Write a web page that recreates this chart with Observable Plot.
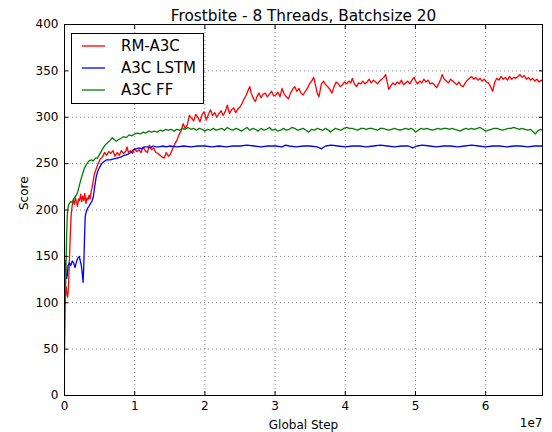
<!DOCTYPE html>
<html>
<head>
<meta charset="utf-8">
<script src="https://cdn.jsdelivr.net/npm/d3@7"></script>
<script src="https://cdn.jsdelivr.net/npm/@observablehq/plot@0.6"></script>
<style>
  html, body { margin: 0; padding: 0; background: #fff; }
  #wrap { position: relative; width: 552px; height: 432px; font-family: "DejaVu Sans", sans-serif; }
  #legend { position: absolute; left: 71px; top: 33px; width: 131px; height: 69px; border: 1px solid #000; background: #fff; }
</style>
</head>
<body>
<div id="wrap"><div id="legend"></div></div>
<script>
const title = "Frostbite - 8 Threads, Batchsize 20";
const xLabel = "Global Step";
const yLabel = "Score";
const xOffsetLabel = "1e7";
const seriesNames = ["RM-A3C", "A3C LSTM", "A3C FF"];
const seriesColors = ["#ff0000", "#0000ff", "#008000"];
const xTicks = [0, 1, 2, 3, 4, 5, 6];
const yTicks = [0, 50, 100, 150, 200, 250, 300, 350, 400];
const xMax = 6.81;

// Global step (in units of 1e7), score
const rmA3C = [[0.005,120],[0.015,112],[0.025,117],[0.035,108],[0.045,106],[0.055,115],[0.065,135],[0.08,168],[0.095,195],[0.11,205],[0.125,211],[0.14,206],[0.155,213],[0.17,209],[0.185,204],[0.2,212],[0.215,210],[0.23,217],[0.245,209],[0.26,215],[0.275,210],[0.29,218],[0.305,207],[0.32,213],[0.335,211],[0.35,216],[0.365,212],[0.38,220],[0.395,225],[0.41,232],[0.43,240],[0.455,245],[0.48,250],[0.51,255],[0.54,257],[0.57,262],[0.6,259],[0.63,263],[0.66,261],[0.69,264],[0.72,258],[0.75,262],[0.78,259],[0.81,264],[0.84,261],[0.87,263],[0.89,268],[0.91,262],[0.94,264],[0.97,261],[1.0,266],[1.03,263],[1.06,265],[1.09,262],[1.12,268],[1.15,264],[1.18,262],[1.21,270],[1.24,265],[1.27,267],[1.3,262],[1.33,261],[1.36,259],[1.39,257],[1.42,256],[1.45,262],[1.48,258],[1.51,260],[1.54,266],[1.57,271],[1.6,275],[1.63,281],[1.66,285],[1.69,293],[1.72,288],[1.75,292],[1.78,302],[1.81,299],[1.84,296],[1.87,303],[1.9,300],[1.93,295],[1.96,303],[1.99,306],[2.02,297],[2.05,303],[2.08,308],[2.11,302],[2.14,305],[2.17,300],[2.2,304],[2.23,307],[2.26,302],[2.29,306],[2.32,313],[2.35,304],[2.38,308],[2.41,310],[2.44,305],[2.47,309],[2.5,311],[2.53,315],[2.56,320],[2.59,324],[2.62,330],[2.64,333],[2.66,326],[2.68,322],[2.7,319],[2.72,317],[2.74,322],[2.77,326],[2.8,321],[2.83,325],[2.86,326],[2.89,322],[2.92,325],[2.95,328],[2.98,323],[3.01,324],[3.04,327],[3.07,322],[3.1,331],[3.13,325],[3.16,322],[3.19,320],[3.22,326],[3.25,330],[3.28,333],[3.31,328],[3.34,331],[3.37,326],[3.4,324],[3.43,328],[3.46,331],[3.49,336],[3.52,339],[3.55,343],[3.575,335],[3.6,326],[3.625,322],[3.66,336],[3.69,339],[3.72,335],[3.75,333],[3.78,330],[3.81,326],[3.84,333],[3.87,338],[3.9,336],[3.93,333],[3.96,335],[3.99,338],[4.02,336],[4.05,339],[4.08,337],[4.1,342],[4.13,336],[4.16,333],[4.19,337],[4.22,336],[4.25,339],[4.28,336],[4.31,338],[4.34,341],[4.37,337],[4.4,340],[4.43,338],[4.46,336],[4.49,339],[4.52,341],[4.55,343],[4.575,346],[4.6,337],[4.62,330],[4.65,334],[4.68,337],[4.71,335],[4.74,338],[4.77,336],[4.8,340],[4.83,335],[4.86,337],[4.89,339],[4.92,336],[4.95,340],[4.98,343],[5.01,338],[5.03,336],[5.06,339],[5.09,337],[5.12,341],[5.15,338],[5.18,340],[5.21,336],[5.24,337],[5.27,335],[5.3,332],[5.33,336],[5.36,341],[5.38,346],[5.41,341],[5.44,339],[5.47,337],[5.5,341],[5.53,339],[5.56,337],[5.59,335],[5.62,338],[5.65,334],[5.68,333],[5.71,337],[5.74,340],[5.77,342],[5.8,344],[5.83,341],[5.86,343],[5.89,340],[5.92,342],[5.95,339],[5.98,341],[6.01,338],[6.04,337],[6.07,333],[6.1,328],[6.13,338],[6.16,342],[6.19,340],[6.22,344],[6.25,341],[6.28,343],[6.31,340],[6.34,344],[6.37,341],[6.4,343],[6.43,342],[6.46,344],[6.49,346],[6.52,343],[6.55,345],[6.58,341],[6.61,343],[6.64,340],[6.67,342],[6.7,339],[6.73,341],[6.76,338],[6.79,340],[6.81,339]];

const a3cLSTM = [[0,142],[0.01,146],[0.02,133],[0.03,126],[0.04,130],[0.05,140],[0.07,143],[0.09,140],[0.11,145],[0.13,143],[0.15,138],[0.17,144],[0.19,148],[0.21,150],[0.225,145],[0.24,140],[0.255,130],[0.265,122],[0.275,140],[0.285,170],[0.295,193],[0.31,198],[0.33,202],[0.35,204],[0.37,207],[0.39,209],[0.41,214],[0.43,225],[0.45,235],[0.47,241],[0.5,246],[0.53,250],[0.56,252],[0.6,254],[0.65,254],[0.7,255],[0.75,256],[0.8,257],[0.85,259],[0.9,260],[0.95,262],[0.98,265],[1.02,266],[1.06,267],[1.1,266],[1.14,268],[1.18,268],[1.22,267],[1.26,269],[1.3,268],[1.35,268],[1.4,269],[1.45,268],[1.5,269],[1.6,268],[1.7,269],[1.8,268],[1.9,269],[2.0,269],[2.1,268],[2.2,269],[2.3,268],[2.4,269],[2.5,269],[2.6,270],[2.7,269],[2.8,268],[2.9,269],[3.0,269],[3.1,268],[3.15,270],[3.2,269],[3.3,268],[3.4,269],[3.5,269],[3.6,268],[3.66,266],[3.72,269],[3.8,270],[3.9,269],[4.0,268],[4.1,269],[4.2,269],[4.3,268],[4.4,269],[4.5,270],[4.6,269],[4.7,268],[4.8,269],[4.9,269],[4.96,267],[5.02,269],[5.1,270],[5.2,269],[5.3,268],[5.4,269],[5.5,269],[5.6,268],[5.7,269],[5.8,270],[5.9,269],[6.0,268],[6.1,269],[6.2,269],[6.3,268],[6.4,269],[6.5,269],[6.6,268],[6.7,269],[6.81,269]];

const a3cFF = [[0,45],[0.01,95],[0.02,135],[0.03,172],[0.04,195],[0.055,205],[0.07,207],[0.09,209],[0.11,208],[0.13,212],[0.15,214],[0.17,216],[0.19,220],[0.21,226],[0.23,232],[0.25,237],[0.27,242],[0.29,246],[0.31,249],[0.33,251],[0.35,253],[0.38,254],[0.41,253],[0.44,256],[0.47,256],[0.5,260],[0.53,264],[0.56,268],[0.59,271],[0.62,273],[0.65,275],[0.68,278],[0.71,276],[0.74,274],[0.77,276],[0.8,277],[0.84,279],[0.88,278],[0.92,281],[0.96,280],[1.0,282],[1.04,283],[1.08,282],[1.12,284],[1.16,283],[1.2,285],[1.24,284],[1.28,285],[1.32,284],[1.36,286],[1.4,285],[1.44,287],[1.48,286],[1.52,287],[1.56,285],[1.6,287],[1.64,286],[1.68,288],[1.72,287],[1.76,289],[1.8,287],[1.84,288],[1.88,286],[1.92,288],[1.96,287],[2.0,285],[2.04,287],[2.08,286],[2.12,288],[2.16,286],[2.2,287],[2.24,288],[2.28,286],[2.32,289],[2.36,287],[2.4,286],[2.44,288],[2.48,287],[2.52,285],[2.56,287],[2.6,289],[2.64,286],[2.68,288],[2.72,287],[2.76,285],[2.8,288],[2.84,286],[2.88,287],[2.92,289],[2.96,286],[3.0,287],[3.04,285],[3.08,286],[3.12,288],[3.16,286],[3.2,287],[3.24,289],[3.28,288],[3.32,286],[3.36,287],[3.4,288],[3.44,286],[3.48,284],[3.52,287],[3.56,286],[3.6,288],[3.64,287],[3.68,286],[3.72,288],[3.76,286],[3.79,284],[3.82,286],[3.86,288],[3.9,287],[3.94,286],[3.98,288],[4.02,289],[4.06,288],[4.1,288],[4.14,287],[4.18,286],[4.22,288],[4.26,288],[4.3,287],[4.34,288],[4.38,288],[4.42,287],[4.46,286],[4.5,288],[4.54,288],[4.58,287],[4.62,286],[4.66,287],[4.7,288],[4.74,287],[4.78,286],[4.82,287],[4.86,288],[4.9,287],[4.94,288],[4.98,286],[5.0,284],[5.04,286],[5.08,288],[5.12,287],[5.16,288],[5.2,287],[5.24,286],[5.28,287],[5.32,288],[5.36,287],[5.4,288],[5.44,288],[5.48,287],[5.52,288],[5.56,287],[5.6,286],[5.64,285],[5.68,287],[5.72,288],[5.76,287],[5.8,288],[5.84,287],[5.88,288],[5.92,289],[5.96,287],[6.0,285],[6.04,286],[6.08,287],[6.12,288],[6.16,288],[6.2,287],[6.24,286],[6.28,287],[6.32,288],[6.36,288],[6.4,289],[6.44,288],[6.48,287],[6.52,288],[6.56,287],[6.6,286],[6.64,287],[6.68,284],[6.71,282],[6.74,285],[6.78,287],[6.81,286]];

const seriesData = [rmA3C, a3cLSTM, a3cFF];
const rows = seriesData.flatMap((arr, i) => arr.map(([x, y]) => ({series: seriesNames[i], step: x, score: y})));

const font = "DejaVu Sans";
const gridStyle = {stroke: "#000", strokeOpacity: 0.6, strokeDasharray: "1,3", strokeWidth: 0.8};

const chart = Plot.plot({
  width: 552,
  height: 432,
  marginLeft: 64,
  marginRight: 10,
  marginTop: 24,
  marginBottom: 37,
  style: {fontFamily: font, fontSize: "12px", color: "#000", background: "#fff"},
  x: {domain: [0, xMax], ticks: xTicks, label: null},
  y: {domain: [0, 400], ticks: yTicks, label: null},
  color: {domain: seriesNames, range: seriesColors},
  marks: [
    Plot.gridX(xTicks, gridStyle),
    Plot.gridY(yTicks, gridStyle),
    Plot.line(rows, {x: "step", y: "score", stroke: "series", z: "series", strokeWidth: 1.3, clip: true}),
    Plot.frame({stroke: "#000", strokeWidth: 1}),
    Plot.axisX(xTicks, {anchor: "bottom", tickSize: -4, tickPadding: 10, tickFormat: d => String(d), label: null}),
    Plot.axisX(xTicks, {anchor: "top", tickSize: -4, tickFormat: () => "", label: null}),
    Plot.axisY(yTicks, {anchor: "left", tickSize: -4, tickPadding: 10, tickFormat: d => String(d), label: null}),
    Plot.axisY(yTicks, {anchor: "right", tickSize: -4, tickFormat: () => "", label: null}),
    Plot.text([title], {frameAnchor: "top", lineAnchor: "bottom", dy: -3.5, fontSize: 15.3, fill: "#000"}),
    Plot.text([xLabel], {frameAnchor: "bottom", lineAnchor: "bottom", dy: 33, fontSize: 12, fill: "#000"}),
    Plot.text([xOffsetLabel], {frameAnchor: "bottom-right", lineAnchor: "bottom", textAnchor: "end", dy: 31, fontSize: 12, fill: "#000"}),
    Plot.text([yLabel], {frameAnchor: "left", rotate: -90, lineAnchor: "bottom", dx: -37, fontSize: 12, fill: "#000"})
  ]
});
document.getElementById("wrap").prepend(chart);

// legend
const lg = d3.select("#legend").append("svg").attr("width", 131).attr("height", 69)
  .style("font-family", font).style("font-size", "15px");
seriesNames.forEach((name, i) => {
  const yy = 12 + i * 22;
  lg.append("line").attr("x1", 10).attr("x2", 33).attr("y1", yy).attr("y2", yy)
    .attr("stroke", seriesColors[i]).attr("stroke-width", 1.3);
  lg.append("text").attr("x", 49).attr("y", yy).attr("dy", "0.35em").attr("fill", "#000").text(name);
});
</script>
</body>
</html>
